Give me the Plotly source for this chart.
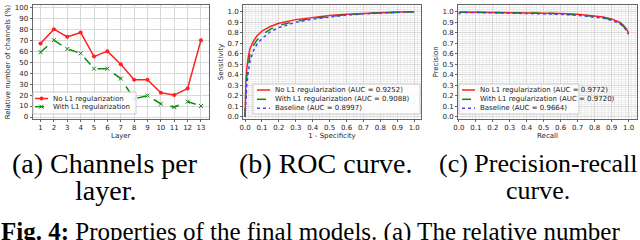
import plotly.graph_objects as go

# ---- Data ----
layers = list(range(1, 14))
no_l1_channels = [67, 80, 73, 77, 55, 60, 48, 34, 34, 22, 20, 26, 70]
with_l1_channels = [59, 70, 62, 58, 44, 44, 35, 16.5, 19.5, 12, 9, 14, 10]

roc_fpr = [0, 0.002, 0.005, 0.01, 0.02, 0.03, 0.05, 0.07, 0.1, 0.15, 0.2, 0.3, 0.4, 0.5, 0.6, 0.7, 0.8, 0.9, 1.0]
roc_tpr_no_l1 = [0, 0.2, 0.33, 0.45, 0.58, 0.65, 0.72, 0.77, 0.815, 0.86, 0.89, 0.925, 0.948, 0.965, 0.977, 0.986, 0.992, 0.997, 1.0]
roc_tpr_with_l1 = [0, 0.15, 0.27, 0.38, 0.52, 0.6, 0.68, 0.73, 0.78, 0.835, 0.87, 0.91, 0.938, 0.958, 0.972, 0.983, 0.99, 0.996, 1.0]
roc_tpr_baseline = [0, 0.1, 0.2, 0.3, 0.44, 0.53, 0.63, 0.69, 0.745, 0.81, 0.85, 0.9, 0.93, 0.952, 0.968, 0.98, 0.988, 0.995, 1.0]

pr_recall = [0, 0.01, 0.1, 0.2, 0.3, 0.4, 0.5, 0.6, 0.7, 0.8, 0.85, 0.9, 0.93, 0.95, 0.97, 0.98, 0.99, 1.0]
pr_prec_no_l1 = [0.975, 0.996, 0.995, 0.994, 0.993, 0.991, 0.988, 0.984, 0.976, 0.962, 0.951, 0.932, 0.915, 0.898, 0.872, 0.852, 0.83, 0.795]
pr_prec_with_l1 = [0.99, 0.995, 0.994, 0.993, 0.991, 0.989, 0.986, 0.981, 0.972, 0.957, 0.945, 0.926, 0.909, 0.892, 0.866, 0.846, 0.824, 0.79]
pr_prec_baseline = [0.99, 0.994, 0.993, 0.991, 0.989, 0.986, 0.982, 0.976, 0.966, 0.95, 0.938, 0.918, 0.901, 0.884, 0.858, 0.838, 0.816, 0.785]

channel_labels = ["No L1 regularization", "With L1 regularization"]
roc_labels = ["No L1 regularization (AUC = 0.9252)",
              "With L1 regularization (AUC = 0.9088)",
              "Baseline (AUC = 0.8997)"]
pr_labels = ["No L1 regularization (AUC = 0.9772)",
             "With L1 regularization (AUC = 0.9720)",
             "Baseline (AUC = 0.9664)"]
caption_lines = [("(a) Channels per", 105, 163, 28), ("layer.", 105, 190, 28),
                 ("(b) ROC curve.", 325, 163, 28),
                 ("(c) Precision-recall", 538, 163, 26), ("curve.", 538, 190, 26)]
fig_caption = "<b>Fig. 4:</b> Properties of the final models. (a) The relative number"

W, H = 640, 240
RED, GREEN, BLUE = "#ff2020", "#118811", "#4444ff"
SMALL = dict(family="DejaVu Sans", size=7, color="#222")


def px(x):
    return x / W


def py(y):
    return 1 - y / H


fig = go.Figure()

# Panel a
fig.add_trace(go.Scatter(x=layers, y=no_l1_channels, mode="lines+markers", name=channel_labels[0],
                         line=dict(color=RED, width=1.5), marker=dict(symbol="circle", size=4, color=RED),
                         xaxis="x", yaxis="y"))
fig.add_trace(go.Scatter(x=layers, y=with_l1_channels, mode="lines+markers", name=channel_labels[1],
                         line=dict(color=GREEN, width=1.5, dash="dash"),
                         marker=dict(symbol="x-thin", size=4, color=GREEN, line=dict(color=GREEN, width=1)),
                         xaxis="x", yaxis="y"))

styles = [(RED, "solid"), (GREEN, "dash"), (BLUE, "dot")]
# Panel b
for y, lab, (col, dash) in zip([roc_tpr_no_l1, roc_tpr_with_l1, roc_tpr_baseline], roc_labels, styles):
    fig.add_trace(go.Scatter(x=roc_fpr, y=y, mode="lines", name=lab, line=dict(color=col, width=1.5, dash=dash),
                             xaxis="x2", yaxis="y2"))
# Panel c
for y, lab, (col, dash) in zip([pr_prec_no_l1, pr_prec_with_l1, pr_prec_baseline], pr_labels, styles):
    fig.add_trace(go.Scatter(x=pr_recall, y=y, mode="lines", name=lab, line=dict(color=col, width=1.5, dash=dash),
                             xaxis="x3", yaxis="y3"))

ydom = [py(119), py(5)]


def ax(domain, rng, dtick, title, anchor, minor=False, fmt=None, standoff=3):
    d = dict(domain=domain, range=rng, dtick=dtick, tick0=0, showline=True, mirror=True, linecolor="#666",
             linewidth=1, showgrid=True, gridcolor="#d8d8d8", gridwidth=1, zeroline=False, automargin=False,
             ticks="outside", ticklen=2, tickcolor="#666", tickfont=SMALL, anchor=anchor,
             title=dict(text=title, font=SMALL, standoff=standoff))
    if fmt:
        d["tickformat"] = fmt
    if minor:
        d["minor"] = dict(dtick=0.02, showgrid=True, gridcolor="#ececec", gridwidth=1)
    return d


fig.update_layout(
    width=W, height=H, margin=dict(l=0, r=0, t=0, b=0, autoexpand=False),
    paper_bgcolor="white", plot_bgcolor="white", showlegend=False,
    xaxis=ax([px(32.5), px(209)], [0.4, 13.6], 1, "Layer", "y", standoff=0),
    yaxis=ax(ydom, [-1.8, 102], 10, "Relative number of channels (%)", "x"),
    xaxis2=ax([px(243), px(421)], [-0.012, 1.04], 0.1, "1 - Specificity", "y2", minor=True, fmt=".1f", standoff=0),
    yaxis2=ax(ydom, [-0.02, 1.064], 0.1, "Sensitivity", "x2", minor=True, fmt=".1f"),
    xaxis3=ax([px(458), px(637)], [-0.005, 1.05], 0.1, "Recall", "y3", minor=True, fmt=".1f", standoff=0),
    yaxis3=ax(ydom, [-0.02, 1.064], 0.1, "Precision", "x3", minor=True, fmt=".1f"),
)


# ---- Legends drawn as boxes, sample lines and text ----
def legend_box(x0, x1, y0, y1):
    fig.add_shape(type="rect", xref="paper", yref="paper", x0=px(x0), x1=px(x1), y0=py(y1), y1=py(y0),
                  fillcolor="rgba(255,255,255,0.85)", line=dict(color="#cccccc", width=1), layer="above")


def legend_item(xs0, xs1, yrow, text, col, dash, marker=None):
    fig.add_shape(type="line", xref="paper", yref="paper", x0=px(xs0), x1=px(xs1), y0=py(yrow), y1=py(yrow),
                  line=dict(color=col, width=1.5, dash=dash), layer="above")
    xm = (xs0 + xs1) / 2
    if marker == "circle":
        fig.add_shape(type="circle", xref="paper", yref="paper", x0=px(xm - 2), x1=px(xm + 2),
                      y0=py(yrow + 2), y1=py(yrow - 2), fillcolor=col, line=dict(color=col, width=0), layer="above")
    elif marker == "x":
        for a, b in [(-2, 2), (2, -2)]:
            fig.add_shape(type="line", xref="paper", yref="paper", x0=px(xm - 2), x1=px(xm + 2),
                          y0=py(yrow + a), y1=py(yrow + b), line=dict(color=col, width=1), layer="above")
    fig.add_annotation(text=text, x=px(xs1 + 3), y=py(yrow), xref="paper", yref="paper", xanchor="left",
                       yanchor="middle", showarrow=False, font=SMALL)


legend_box(33, 136, 92, 114)
legend_item(35, 48, 98.5, channel_labels[0], RED, "solid", "circle")
legend_item(35, 48, 106.7, channel_labels[1], GREEN, "dash", "x")

legend_box(253, 420, 84, 114)
for lab, (col, dash), yr in zip(roc_labels, styles, [90, 99.3, 108.3]):
    legend_item(257, 270, yr, lab, col, dash)

legend_box(459, 579, 84, 114)
for lab, (col, dash), yr in zip(pr_labels, styles, [90, 99.3, 108.3]):
    legend_item(462, 475, yr, lab, col, dash)

# ---- Captions ----
for text, x, y, size in caption_lines:
    fig.add_annotation(text=text, x=px(x), y=py(y), xref="paper", yref="paper", xanchor="center",
                       yanchor="middle", showarrow=False,
                       font=dict(family="Liberation Serif", size=size, color="black"))
fig.add_annotation(text=fig_caption, x=px(-1), y=py(232), xref="paper", yref="paper", xanchor="left",
                   yanchor="middle", showarrow=False,
                   font=dict(family="Liberation Serif", size=25, color="black"))

fig.write_html("out.html", config={"displayModeBar": False},
               post_script="document.body.style.margin='0';document.body.style.overflow='hidden';")
